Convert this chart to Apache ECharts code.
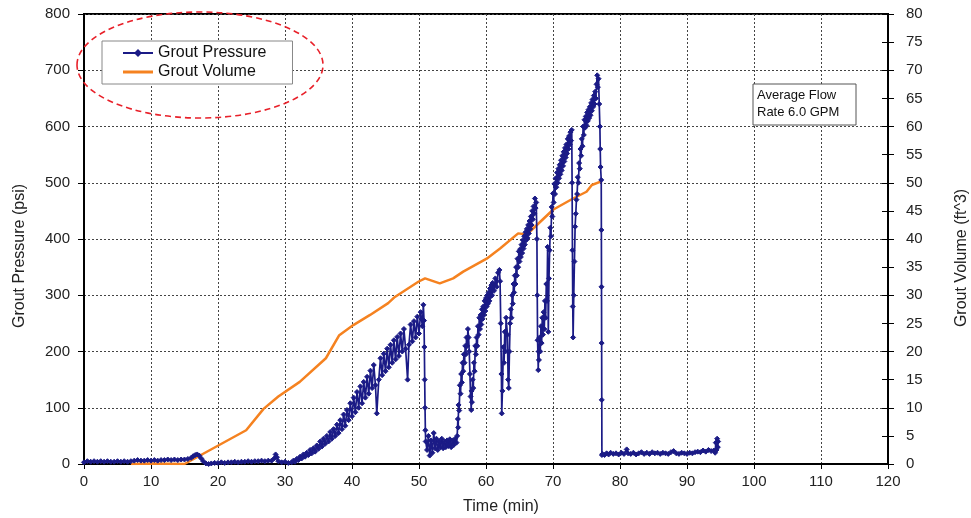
<!DOCTYPE html>
<html>
<head>
<meta charset="utf-8">
<script src="https://cdn.jsdelivr.net/npm/echarts@6/dist/echarts.min.js"></script>
<style>html,body{margin:0;padding:0;background:#fff;}#chart{width:971px;height:518px;}</style>
</head>
<body>
<div id="chart"></div>
<script>
// Grout volume (ft^3) vs time (min)
const volumeTime = [7, 10, 15, 24.2, 26.8, 29, 32.2, 36.1, 38.1, 40.2, 42.7, 45.4, 46.4, 49.9, 50.9, 53.1, 55.1, 56.6, 60.1, 62.1, 64.8, 66.1, 70.0, 73.0, 75.0, 75.8, 77.3];
const volumeFt3  = [0, 0.1, 0, 6.0, 9.8, 12.0, 14.6, 18.8, 22.9, 24.7, 26.5, 28.6, 29.7, 32.4, 33.0, 32.1, 33.0, 34.2, 36.5, 38.3, 41.0, 40.8, 45.2, 47.2, 48.4, 49.6, 50.3];

// Grout pressure (psi) readings: [time (min), pressure (psi)]
const pressureLow = [
 [0,3],[0.5,5],[1,4],[1.5,5],[2,4],[2.5,5],[3,4],[3.5,5],[4,4],[4.5,4],[5,5],[5.5,4],[6,5],[6.5,4],[7,5],[7.5,6],[8,7],[8.5,6],[9,6],[9.5,7],[10,6],[10.5,7],[11,6],[11.5,7],[12,7],[12.5,8],[13,7],[13.5,8],[14,7],[14.5,8],[15,8],
 [15.5,9],[16,11],[16.3,14],[16.6,16],[16.9,17],[17.2,15],[17.5,10],[17.8,5],[18.2,1],[18.6,0],[19,1],
 [19.5,2],[20,2],[20.5,3],[21,2],[21.5,3],[22,3],[22.5,4],[23,3],[23.5,4],[24,4],[24.5,5],[25,4],[25.5,5],[26,5],[26.5,6],[27,5],[27.5,6],[28,6],
 [28.4,10],[28.6,17],[28.8,12],[29,5],[29.5,3],[30,4],[30.5,2]
];
const pressureRise1 = [
 [31,3],[31.25,6],[31.5,4],[31.75,9],[32,7],[32.25,13],[32.5,10],[32.75,17],[33,13],[33.25,20],[33.5,16],[33.75,25],[34,19],[34.25,28],[34.5,22],[34.75,33],
 [35,27],[35.25,40],[35.5,31],[35.75,45],[36,36],[36.25,50],[36.5,40],[36.75,57],[37,45],[37.25,62],[37.5,50],[37.75,70],[38,55],[38.25,78],[38.5,62],[38.75,88],
 [39,68],[39.25,96],[39.5,78],[39.75,108],[40,85],[40.25,118],[40.5,92],[40.75,128],[41,100],[41.25,138],[41.5,108],[41.75,146],[42,118],[42.25,155],[42.5,125],[42.75,166],
 [43,135],[43.25,176],[43.5,140],[43.7,90],[44,150],[44.25,188],[44.5,158],[44.75,196],[45,165],[45.25,205],[45.5,172],[45.75,212],[46,180],[46.25,220],[46.5,186],[46.75,226],
 [47,192],[47.25,232],[47.5,200],[47.75,240],[48,205],[48.3,150],[48.5,212],[48.75,248],[49,218],[49.25,254],[49.5,225],[49.75,262],[50,232],[50.25,270],[50.5,245],[50.65,283],[50.75,255]
];
const pressureDrop1 = [
 [50.8,208],[50.85,150],[50.9,100],[50.95,60],[51,40],[51.2,25],[51.4,50],[51.6,15],[51.8,42],[52,20],[52.2,55],[52.4,28],[52.6,45],[52.8,25],[53,40],[53.2,30],
 [53.4,45],[53.6,28],[53.8,40],[54,30],[54.2,42],[54.4,32],[54.6,44],[54.8,30],[55,42],[55.2,34],[55.4,45],[55.6,38]
];
const pressureRise2 = [
 [55.7,50],[55.8,80],[55.85,65],[55.9,105],[56,95],[56.1,140],[56.2,125],[56.3,160],[56.4,145],[56.5,180],[56.6,165],[56.7,195],[56.8,180],[56.9,210],[57,195],[57.1,225],
 [57.2,210],[57.3,240],[57.4,225],[57.5,200],[57.6,160],[57.7,120],[57.8,96],[57.85,130],[57.9,110],[58,150],[58.1,135],[58.2,180],[58.3,165],[58.4,210],[58.5,195],[58.6,225],
 [58.7,210],[58.8,245],[58.9,230],[59,260],[59.1,240],[59.2,265],[59.3,248],[59.4,275],[59.5,258],[59.6,280],[59.7,265],[59.8,290],[59.9,272],[60,295],[60.1,280],[60.2,300],
 [60.3,285],[60.4,305],[60.5,290],[60.6,312],[60.7,298],[60.8,318],[60.9,300],[61,322],[61.2,308],[61.4,330],[61.6,315],[61.8,340],[62,345],[62.1,325],[62.2,250],[62.3,160],
 [62.35,90],[62.45,130],[62.6,208],[62.7,180],[62.8,235],[62.9,200],[63,260],[63.2,230],[63.3,150],[63.4,135],[63.5,200],[63.6,250],[63.7,275],[63.8,260],[63.9,300],[64,285],
 [64.1,320],[64.2,305],[64.3,335],[64.4,320],[64.5,350],[64.6,335],[64.7,365],[64.8,350],[64.9,378],[65,360],[65.1,382],[65.2,368],[65.3,390],[65.4,375],[65.5,398],[65.6,383],
 [65.7,405],[65.8,390],[65.9,412],[66,398],[66.1,418],[66.2,402],[66.3,425],[66.4,410],[66.5,432],[66.6,418],[66.7,440],[66.8,425],[66.9,450],[67,435],[67.1,458],[67.2,445],
 [67.3,472],[67.4,455],[67.5,465],[67.6,400],[67.65,300],[67.7,220],[67.8,167],[67.85,200],[67.9,185],[68,225],[68.1,200],[68.2,245],[68.3,215],[68.4,260],[68.5,230],[68.6,270],
 [68.7,240],[68.8,290],[68.9,260],[69,320],[69.1,290],[69.2,386],[69.3,235],[69.4,330],[69.5,380],[69.6,420],[69.7,405],[69.8,457],[69.9,440],[70,481],[70.1,465],[70.2,498],
 [70.3,480],[70.4,508],[70.5,492],[70.6,518],[70.7,500],[70.8,525],[70.9,508],[71,532],[71.1,515],[71.2,540],[71.3,522],[71.4,548],[71.5,530],[71.6,555],[71.7,538],[71.8,562],
 [71.9,545],[72,568],[72.1,552],[72.2,578],[72.3,560],[72.4,583],[72.5,568],[72.6,590],[72.7,575],[72.8,594],[72.85,500],[72.9,380],[72.95,280],[73,225],[73.1,300],[73.2,360],
 [73.3,422],[73.4,445],[73.5,470],[73.6,480],[73.7,510],[73.8,500],[73.9,535],[74,525],[74.1,560],[74.2,548],[74.3,578],[74.4,565],[74.5,600],[74.6,585],[74.7,612],[74.8,598],
 [74.9,618],[75,602],[75.1,625],[75.2,610],[75.3,630],[75.4,615],[75.5,635],[75.6,620],[75.7,642],[75.8,628],[75.9,648],[76,635],[76.1,655],[76.2,640],[76.3,662],[76.4,650],
 [76.5,675],[76.6,691],[76.7,670],[76.8,685],[76.9,640],[77,600],[77.05,560],[77.1,528],[77.2,505],[77.22,416],[77.24,315],[77.26,215],[77.28,114],[77.3,16]
];
const pressureEnd = [
 [77.4,18],[77.7,16],[78,19],[78.3,17],[78.6,20],[79,18],[79.4,19],[79.8,17],[80.2,20],[80.6,18],[81,26],[81.2,19],[81.6,18],[82,20],[82.4,17],[82.8,19],
 [83.2,21],[83.6,18],[84,20],[84.4,18],[84.8,21],[85.2,19],[85.6,20],[86,18],[86.4,20],[86.8,19],[87.2,18],[87.6,21],[88,23],[88.4,19],[88.8,18],[89.2,20],
 [89.6,19],[90,18],[90.4,20],[90.8,19],[91.2,21],[91.6,22],[92,21],[92.4,24],[92.8,22],[93.2,25],[93.6,23],[94,24],[94.2,20],[94.3,38],[94.4,25],[94.5,45],[94.6,30],[94.65,40]
];

const pressureData = [].concat(pressureLow, pressureRise1, pressureDrop1, pressureRise2, pressureEnd);
const volumeData = volumeTime.map((t, i) => [t, volumeFt3[i]]);

const FONT = '"Liberation Sans", Arial, sans-serif';
const BLUE = '#1b1b86';
const ORANGE = '#f58220';
const chart = echarts.init(document.getElementById('chart'), null, {renderer: 'canvas'});
const option = {
  animation: false,
  textStyle: {fontFamily: FONT},
  grid: {left: 84, right: 83, top: 14, bottom: 54, show: true, borderColor: '#000', borderWidth: 2,
         containLabel: false, outerBoundsMode: 'none'},
  legend: {
    orient: 'vertical', left: 102, top: 41, padding: [4, 26, 4, 20], itemGap: 3,
    itemWidth: 30, itemHeight: 10,
    backgroundColor: '#fff', borderColor: '#888', borderWidth: 1,
    textStyle: {fontFamily: FONT, fontSize: 16, color: '#111'},
    data: [
      {name: 'Grout Pressure'},
      {name: 'Grout Volume', icon: 'path://M0,0 L30,0 L30,3 L0,3 Z'}
    ]
  },
  xAxis: {
    type: 'value', min: 0, max: 120, interval: 10,
    name: 'Time (min)', nameLocation: 'middle', nameGap: 35,
    nameTextStyle: {fontFamily: FONT, fontSize: 16, color: '#222', padding: [0, 0, 0, 30]},
    axisLine: {lineStyle: {color: '#000', width: 2}},
    axisTick: {length: 5, lineStyle: {color: '#000'}},
    axisLabel: {fontFamily: FONT, fontSize: 15, color: '#222', margin: 10},
    splitLine: {lineStyle: {color: '#444', type: [2, 2], width: 1}}
  },
  yAxis: [
    {
      type: 'value', min: 0, max: 800, interval: 100, position: 'left',
      name: 'Grout Pressure (psi)', nameLocation: 'middle', nameRotate: 90, nameGap: 56,
      nameTextStyle: {fontFamily: FONT, fontSize: 16, color: '#222', padding: [0, 34, 0, 0]},
      axisLine: {show: true, lineStyle: {color: '#000', width: 2}},
      axisTick: {show: true, length: 6, lineStyle: {color: '#000'}},
      axisLabel: {fontFamily: FONT, fontSize: 15, color: '#222', margin: 14},
      splitLine: {lineStyle: {color: '#444', type: [2, 2], width: 1}}
    },
    {
      type: 'value', min: 0, max: 80, interval: 5, position: 'right',
      name: 'Grout Volume (ft^3)', nameLocation: 'middle', nameRotate: 90, nameGap: 66,
      nameTextStyle: {fontFamily: FONT, fontSize: 16, color: '#222', padding: [0, 38, 0, 0]},
      axisLine: {show: true, lineStyle: {color: '#000', width: 2}},
      axisTick: {show: true, length: 6, lineStyle: {color: '#000'}},
      axisLabel: {fontFamily: FONT, fontSize: 15, color: '#222', margin: 18},
      splitLine: {show: false}
    },
    {
      type: 'value', min: 0, max: 80, interval: 5, position: 'right',
      axisLine: {show: false},
      axisTick: {show: true, inside: true, length: 6, lineStyle: {color: '#000'}},
      axisLabel: {show: false},
      splitLine: {show: false}
    }
  ],
  series: [
    {
      name: 'Grout Pressure', type: 'line', yAxisIndex: 0, data: pressureData,
      symbol: 'diamond', symbolSize: 5, showAllSymbol: true,
      lineStyle: {color: BLUE, width: 1.7},
      itemStyle: {color: BLUE, borderColor: BLUE},
      z: 3
    },
    {
      name: 'Grout Volume', type: 'line', yAxisIndex: 1, data: volumeData,
      symbol: 'none',
      lineStyle: {color: ORANGE, width: 2.5},
      itemStyle: {color: ORANGE},
      z: 2
    }
  ],
  graphic: [
    {
      type: 'ellipse', shape: {cx: 200, cy: 65, rx: 123, ry: 53},
      style: {fill: 'none', stroke: '#e8212a', lineWidth: 1.6, lineDash: [6, 4]}, z: 100
    },
    {
      type: 'rect', shape: {x: 753, y: 84, width: 103, height: 41},
      style: {fill: '#fff', stroke: '#555', lineWidth: 1}, z: 90
    },
    {
      type: 'text', left: 757, top: 87,
      style: {text: 'Average Flow\nRate 6.0 GPM', font: '13px ' + FONT, fill: '#111', lineHeight: 17}, z: 91
    }
  ]
};
chart.setOption(option);
</script>
</body>
</html>
